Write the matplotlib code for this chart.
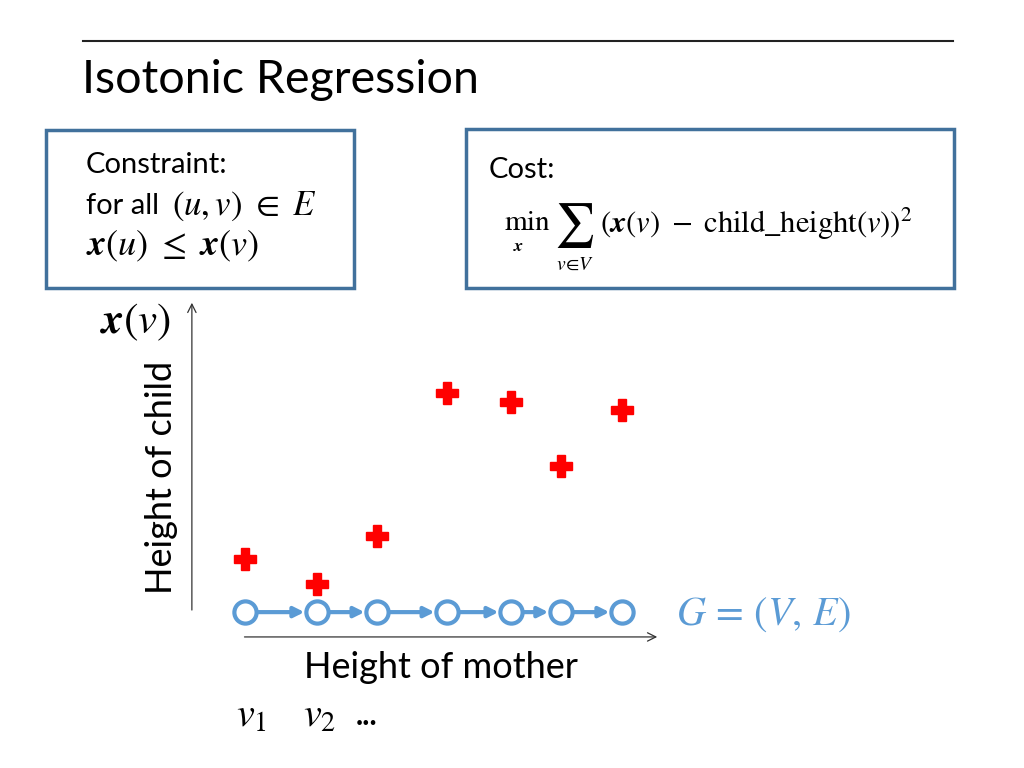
import matplotlib.pyplot as plt
from matplotlib.patches import Rectangle

plt.rcParams['font.family'] = ['Lato', 'DejaVu Sans']
plt.rcParams['mathtext.fontset'] = 'stix'

# données : taille de la mère (x) et de l'enfant (y), unités arbitraires
mother_height = [1.17, 2.70, 3.98, 5.47, 6.83, 7.89, 9.19]
child_height = [2.38, 1.65, 3.06, 7.26, 7.00, 5.12, 6.76]

blue = '#5B9BD5'
box_blue = '#41719C'

fig = plt.figure(figsize=(10.24, 7.68), dpi=100)

# calque "diapo" en coordonnées pixels
slide = fig.add_axes([0, 0, 1, 1])
slide.set_xlim(0, 1024)
slide.set_ylim(768, 0)
slide.axis('off')

slide.plot([83, 953], [41, 41], color='#222222', lw=1.5)
slide.text(82, 80, "Isotonic Regression", fontsize=33.5, va='center', ha='left')

slide.add_patch(Rectangle((46, 130), 308, 158, fill=False, ec=box_blue, lw=2.5))
slide.add_patch(Rectangle((466, 129), 488, 159, fill=False, ec=box_blue, lw=2.5))

slide.text(86, 165, "Constraint:", fontsize=21, va='center')
slide.text(86, 206, "for all", fontsize=21, va='center')
slide.text(172, 206, r"$(u,v)\ \in\ E$", fontsize=25, va='center')
slide.text(86, 246, r"$\mathbfit{x}(u)\ \leq\ \mathbfit{x}(v)$", fontsize=26, va='center')

slide.text(489, 170, "Cost:", fontsize=21, va='center')
slide.text(504, 222, r"$\mathrm{min}$", fontsize=21, va='center')
slide.text(519, 246, r"$\mathbfit{x}$", fontsize=13, va='center', ha='center')
slide.text(574, 226, r"$\sum$", fontsize=32, va='center', ha='center')
slide.text(575, 264, r"$v\!\in\! V$", fontsize=14, va='center', ha='center')
slide.text(600, 224, r"$(\mathbfit{x}(v)\ -\ \mathrm{child\_height}(v))^2$", fontsize=22, va='center')

# graphique
ax = fig.add_axes([190 / 1024, 1 - 640 / 768, 470 / 1024, 340 / 768])
ax.set_xlim(0, 10)
ax.set_ylim(0, 10)
ax.axis('off')

ax.annotate('', xy=(10.0, 0.09), xytext=(1.1, 0.09),
            arrowprops=dict(arrowstyle='->', color='#333333', lw=0.9, mutation_scale=15))
ax.annotate('', xy=(0.04, 10.0), xytext=(0.04, 0.8),
            arrowprops=dict(arrowstyle='->', color='#333333', lw=0.9, mutation_scale=15))

node_y = 0.82
for i in range(len(mother_height) - 1):
    ax.annotate('', xy=(mother_height[i + 1], node_y), xytext=(mother_height[i], node_y),
                arrowprops=dict(arrowstyle='-|>', color=blue, lw=3, mutation_scale=15,
                                shrinkA=9, shrinkB=9))
ax.plot(mother_height, [node_y] * len(mother_height), 'o', ms=16, mfc='white', mec=blue, mew=3,
        zorder=5)

ax.plot(mother_height, child_height, 'P', ms=16, color='red', mec='red', zorder=6)

slide.text(100, 322, r"$\mathbfit{x}(v)$", fontsize=31, va='center', ha='left')
slide.text(162, 477, "Height of child", fontsize=26, va='center', ha='center', rotation=90)
slide.text(441, 668, "Height of mother", fontsize=26, va='center', ha='center')
slide.text(236, 716, r"$v_1$", fontsize=29, va='center', ha='left')
slide.text(303, 716, r"$v_2$", fontsize=29, va='center', ha='left')
slide.text(356, 716, "...", fontsize=22, va='center', ha='left', fontweight='bold')
slide.text(676, 615, r"$G\,=\,(V,\,E)$", fontsize=29, va='center', ha='left', color=blue)

fig.savefig("out.png", dpi=100)
